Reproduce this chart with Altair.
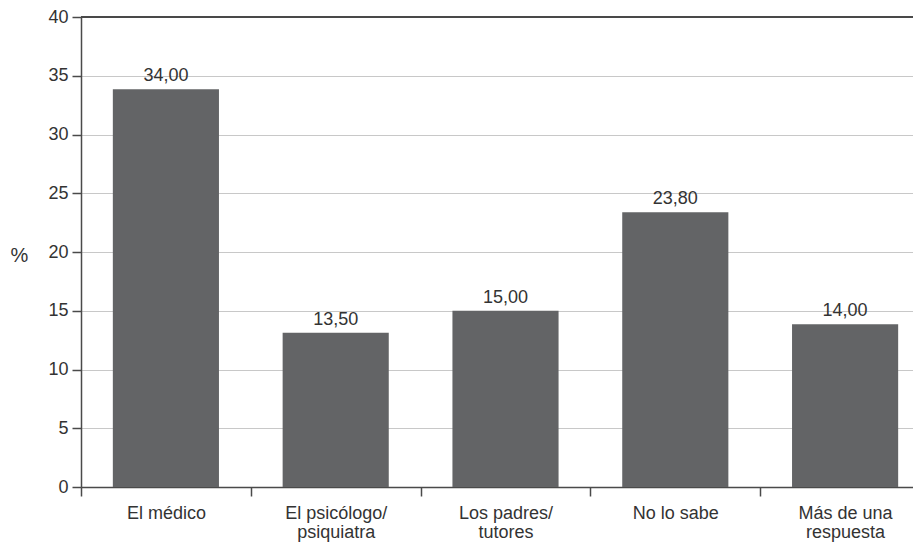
import altair as alt
import pandas as pd

categories = ["El médico", "El psicólogo/|psiquiatra", "Los padres/|tutores", "No lo sabe", "Más de una|respuesta"]
bar_values = [33.85, 13.13, 15.0, 23.38, 13.85]
value_labels = ["34,00", "13,50", "15,00", "23,80", "14,00"]
y_ticks = [0, 5, 10, 15, 20, 25, 30, 35, 40]

df = pd.DataFrame({"cat": categories, "val": bar_values, "lab": value_labels})

FONT = "Liberation Sans"
TXT = "#333333"
AX = "#4a4a4a"
W = 832          # visible plot width (fits the page)
XR = 849         # x scale range: the original panel runs past the right edge
HALF_STEP = XR / len(categories) / 2

xscale = alt.Scale(paddingInner=0.375, paddingOuter=0.1875, range=[0, XR])

x = alt.X(
    "cat:N", sort=categories, title=None, scale=xscale,
    axis=alt.Axis(
        labelAngle=0, labelExpr="split(datum.label, '|')",
        labelFont=FONT, labelFontSize=18, labelColor=TXT, labelLineHeight=19,
        labelPadding=8, tickOffset=-HALF_STEP, labelOffset=HALF_STEP,
        tickSize=9, tickColor=AX, tickWidth=1.5,
        domainColor=AX, domainWidth=1.5, grid=False, labelBaseline="top",
    ),
)
y = alt.Y(
    "val:Q", title="%",
    scale=alt.Scale(domain=[0, 40], nice=False, zero=True),
    axis=alt.Axis(
        values=y_ticks, labelFont=FONT, labelFontSize=18, labelColor=TXT,
        labelPadding=4, tickSize=9, tickColor=AX, tickWidth=1.5,
        domainColor=AX, domainWidth=1.5, grid=True, gridColor="#c8c8c8", gridWidth=1.2,
        titleFont=FONT, titleFontSize=20, titleFontWeight="normal", titleColor=TXT,
        titleAngle=0, titleAlign="center", titleBaseline="middle", titleX=-62, titleY=238,
    ),
)

bars = alt.Chart(df).mark_bar(color="#636466").encode(x=x, y=y)
labels = alt.Chart(df).mark_text(
    font=FONT, fontSize=18, color=TXT, baseline="alphabetic", dy=-8
).encode(x=alt.X("cat:N", sort=categories), y="val:Q", text="lab:N")
top_rule = alt.Chart(df).mark_rule(color=AX, strokeWidth=1.5).encode(
    y=alt.datum(40), x=alt.value(0), x2=alt.value(XR)
)

chart = (bars + labels + top_rule).properties(
    width=W, height=470,
    padding={"left": 73, "top": 9, "right": 0, "bottom": 55},
    autosize="none",
).configure_view(strokeWidth=0).configure(background="white")

chart.save("out.html", embed_options={"renderer": "svg", "actions": False})
